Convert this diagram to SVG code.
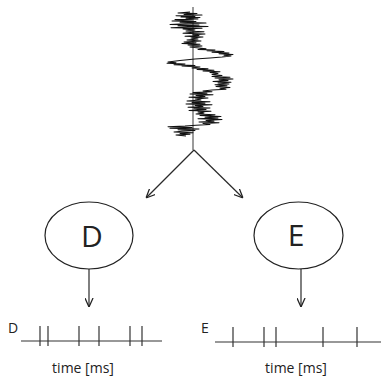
<svg xmlns="http://www.w3.org/2000/svg" width="382" height="379" viewBox="0 0 382 379">
<defs>
<marker id="ah" viewBox="0 0 10 10" refX="10" refY="5" markerWidth="9" markerHeight="9" markerUnits="userSpaceOnUse" orient="auto">
<path d="M0,0.5 L10,5 L0,9.5" fill="none" stroke="#222" stroke-width="1.4"/>
</marker>
<style>
.ax{stroke:#7a7a7a;stroke-width:1.5;fill:none}
.tr{stroke:#111;stroke-width:1.05;fill:none;stroke-linejoin:round}
.ln{stroke:#2a2a2a;stroke-width:1.2;fill:none}
.el{fill:#fff;stroke:#222;stroke-width:1.2}
.big{font-family:"Open Sans","Liberation Sans",sans-serif;font-size:30px;fill:#222;text-anchor:middle}
.sm{font-family:"Open Sans","Liberation Sans",sans-serif;font-size:14px;fill:#222}
.tk{stroke:#333;stroke-width:1.2}
</style>
</defs>
<g id="signal">
<line class="ax" x1="193" y1="7" x2="193" y2="150"/>
<polyline class="tr" points="190,12 178,13 197,13.5 184,14.5 202,15 176,15.8 195,16.5 181,17 200,17.5 186,18.3 198,19 175,19.5 192,20 172,21 196,21.5 180,22.3 206,23 185,23.7 170,24.4 199,25 178,25.8 208,26.4 188,27 171,27.8 202,28.3 183,29 195,30 186,31 204,31.8 190,32.5 183,33.2 205,34 193,34.8 199,35.5 185,36.3 203,37 191,38 198,39 187,40 201,41 184,42 196,42.8 182,43.6 200,44.3 188,45 202,46 190,47 199,48 206,48.7 198,49.4 215,50 207,50.8 224,51.5 212,52.2 229,53 219,53.8 233,54.5 224,55.3 231,56 222,57 210,58 195,59 180,60.5 168,62 176,62.7 167,63.3 185,64 174,64.8 195,65.4 182,66 200,67 192,68 208,68.8 197,69.5 214,70.3 203,71 220,71.8 210,72.6 218,73.5 212,74.5 222,75.5 212,76.5 230,77.3 215,78 233,79 219,79.8 228,80.6 213,81.4 231,82.3 218,83 229,84 215,84.8 227,85.7 216,86.5 230,87.4 220,88.3 226,89.2 212,90 203,91 212,91.7 193,92.5 207,93.3 190,94 213,94.8 196,95.6 205,96.4 189,97.2 208,98 195,99 201,100 187,101 210,101.7 192,102.4 205,103.2 186,104 212,104.8 195,105.6 203,106.4 188,107.2 210,108 194,108.8 206,109.6 189,110.4 211,111.2 198,112 204,113 196,114 215,114.8 200,115.6 221,116.4 205,117.2 218,118 198,118.8 222,119.6 206,120.4 214,121.2 199,122 219,122.8 203,123.6 210,124.4 196,125.2 185,126 168,126.8 192,127.5 170,128.2 199,129 178,129.8 195,130.5 182,131.3 174,132 193,132.8 180,133.5 190,134.3 176,135 186,136"/>
</g>
<g id="connectors">
<line class="ln" x1="194" y1="150" x2="146" y2="198" marker-end="url(#ah)"/>
<line class="ln" x1="194" y1="150" x2="243" y2="198" marker-end="url(#ah)"/>
<line class="ln" x1="89" y1="269" x2="89" y2="307" marker-end="url(#ah)"/>
<line class="ln" x1="301" y1="269" x2="301" y2="307" marker-end="url(#ah)"/>
</g>
<g id="nodeD">
<ellipse class="el" cx="89" cy="235.5" rx="44" ry="33.5"/>
<text class="big" x="92" y="247">D</text>
</g>
<g id="nodeE">
<ellipse class="el" cx="298.5" cy="235.5" rx="44.5" ry="33.5"/>
<text class="big" x="296" y="246">E</text>
</g>
<g id="trainD">
<text class="sm" x="8" y="333">D</text>
<line class="tk" x1="21" y1="341" x2="162" y2="341"/>
<g class="tk">
<line x1="40" y1="326" x2="40" y2="346"/>
<line x1="48" y1="326" x2="48" y2="346"/>
<line x1="79" y1="326" x2="79" y2="346"/>
<line x1="99" y1="326" x2="99" y2="346"/>
<line x1="130" y1="326" x2="130" y2="346"/>
<line x1="142" y1="326" x2="142" y2="346"/>
</g>
<text class="sm" x="83" y="373" text-anchor="middle">time [ms]</text>
</g>
<g id="trainE">
<text class="sm" x="201" y="333">E</text>
<line class="tk" x1="215" y1="342" x2="381" y2="342"/>
<g class="tk">
<line x1="233" y1="327" x2="233" y2="347"/>
<line x1="264" y1="327" x2="264" y2="347"/>
<line x1="276" y1="327" x2="276" y2="347"/>
<line x1="323" y1="327" x2="323" y2="347"/>
<line x1="357" y1="327" x2="357" y2="347"/>
</g>
<text class="sm" x="296" y="373" text-anchor="middle">time [ms]</text>
</g>
</svg>
